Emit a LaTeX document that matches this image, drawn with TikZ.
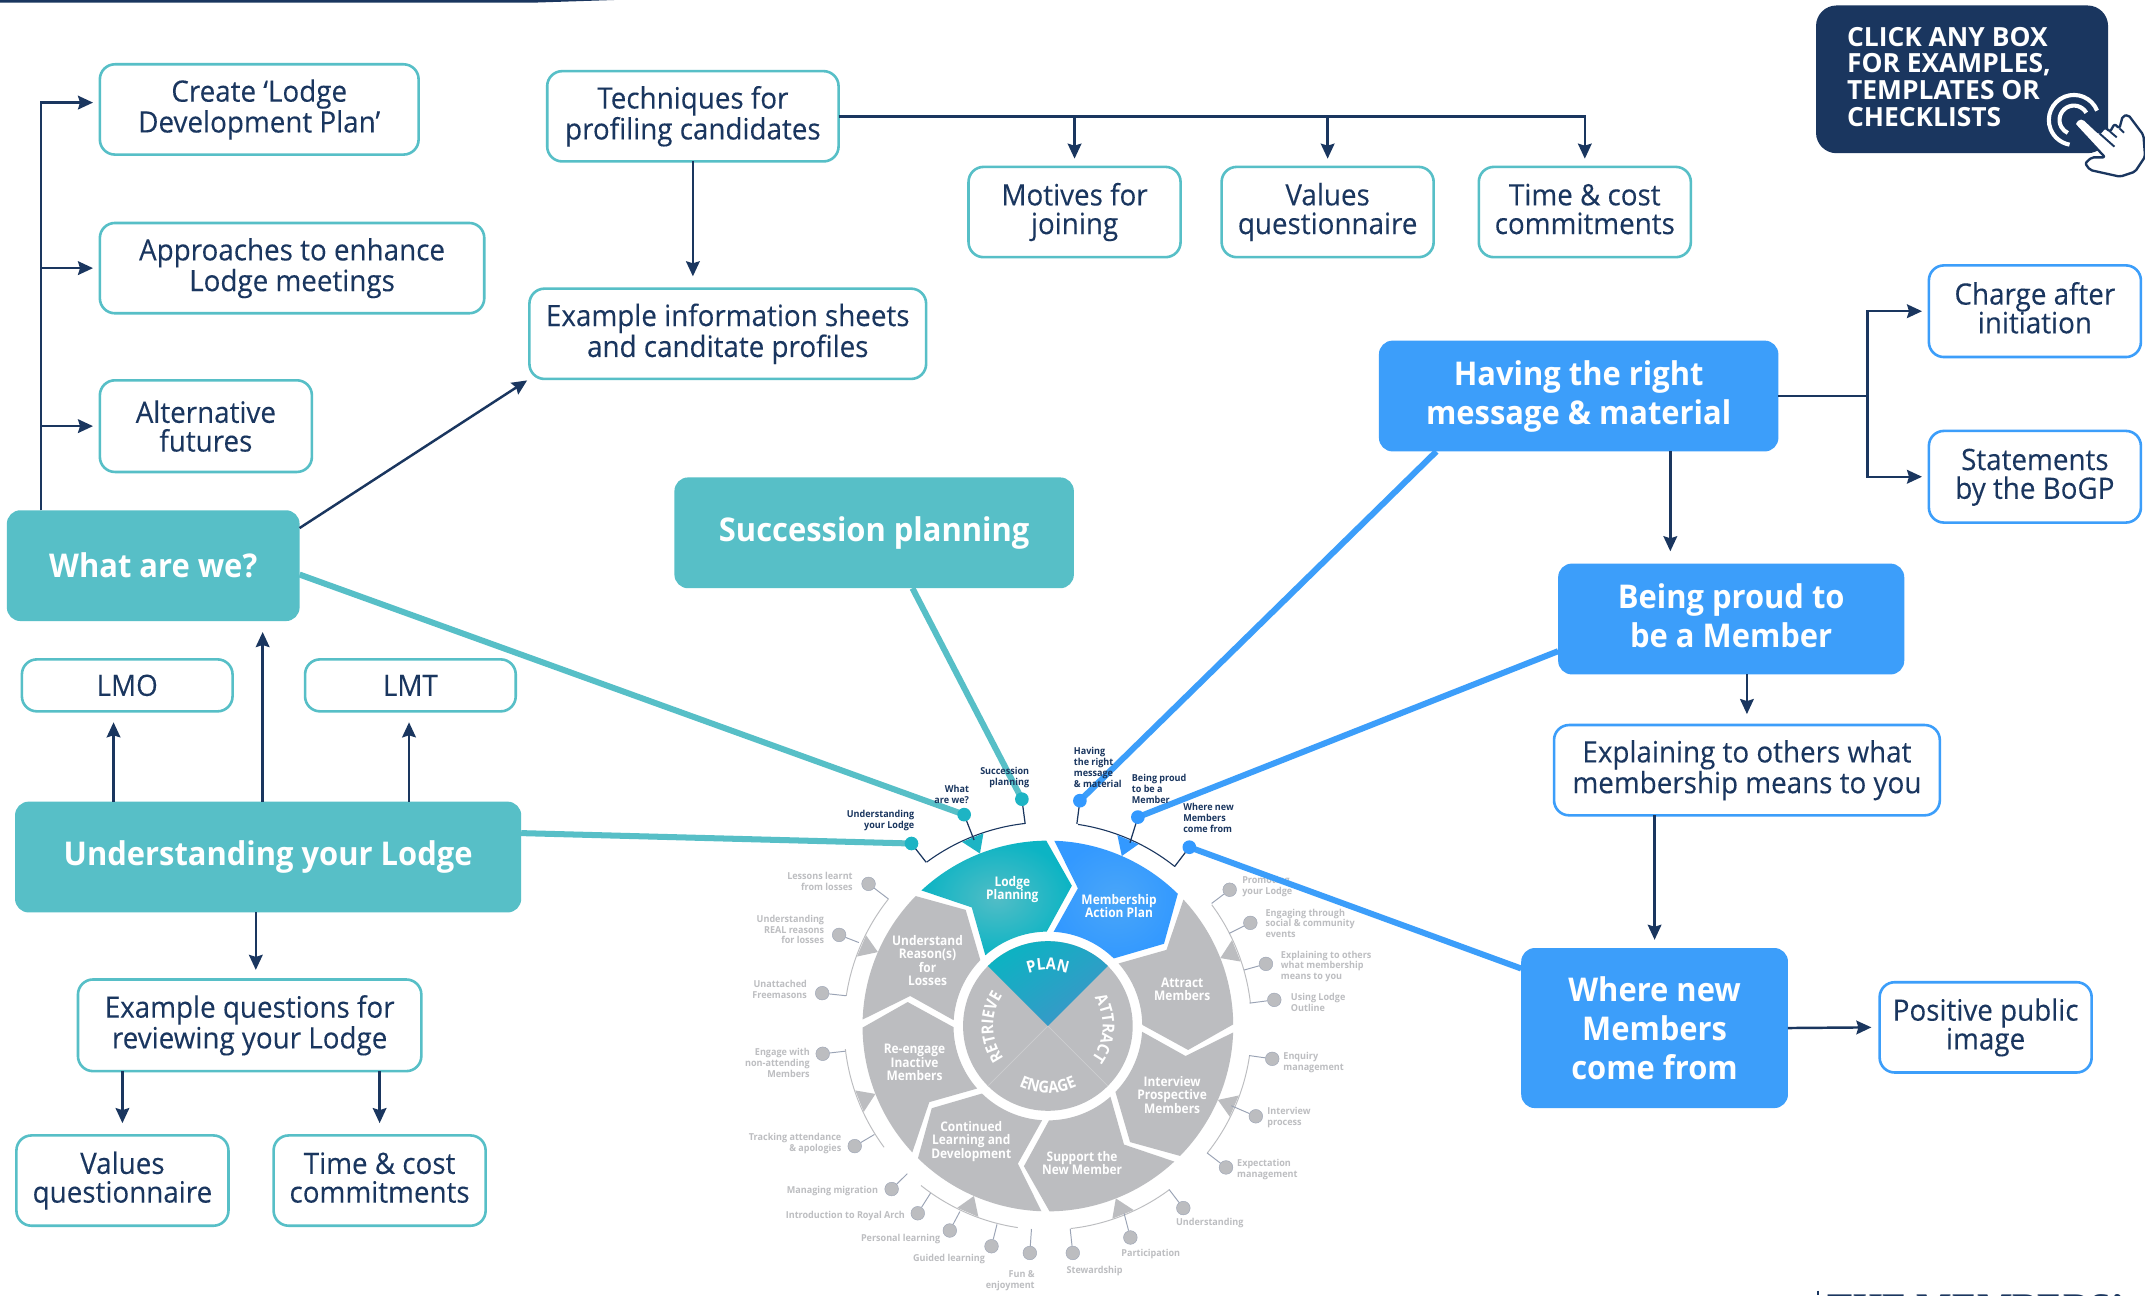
\documentclass[tikz,border=0pt]{standalone}
\usepackage{fontspec}
\setmainfont[FakeStretch=0.945,FakeBold=0.15,BoldFeatures={FakeBold=0}]{Open Sans}
\newfontfamily\narrowf[FakeStretch=0.9]{Open Sans}
\newfontfamily\ctaf{Open Sans}
\newfontfamily\cutserif{Liberation Serif}
\usetikzlibrary{arrows.meta,calc,decorations.text}
\definecolor{mynavy}{HTML}{1A365F}
\definecolor{myteal}{HTML}{57BFC7}
\definecolor{tealedge}{HTML}{0CB4C4}
\definecolor{tealmid}{HTML}{52BDC6}
\definecolor{tealdot}{HTML}{1DB4C4}
\definecolor{myblue}{HTML}{3C9EFA}
\definecolor{blueout}{HTML}{3399FF}
\definecolor{bluein}{HTML}{4AA6F8}
\definecolor{plana}{HTML}{0AB4C2}
\definecolor{planb}{HTML}{08AFD2}
\definecolor{planc}{HTML}{3C96C8}
\definecolor{mygray}{HTML}{BCBDC0}
\definecolor{glabel}{HTML}{BDBEC1}
\definecolor{gtick}{HTML}{9AA3B5}
\tikzset{
  outl/.style={rectangle,rounded corners=11pt,line width=1.9pt,fill=white,inner sep=0pt,outer sep=0pt,align=center,text=mynavy,font=\fontsize{21.5}{21}\selectfont},
  tbox/.style={outl,draw=myteal},
  bbox/.style={outl,draw=myblue},
  fbox/.style={rectangle,rounded corners=10pt,inner sep=0pt,outer sep=0pt,align=center,text=white,font=\fontsize{23.9}{28.5}\selectfont\bfseries},
  tfill/.style={fbox,fill=myteal},
  bfill/.style={fbox,fill=myblue},
  conn/.style={draw=mynavy,line width=1.8pt,-{Stealth[length=11pt,width=10pt,inset=1.5pt]}},
  plainconn/.style={draw=mynavy,line width=1.8pt},
  thickt/.style={draw=myteal,line width=4.4pt},
  thickb/.style={draw=myblue,line width=4.4pt},
  dotg/.style={circle,fill=mygray,draw=gtick,line width=.3pt,minimum size=10pt,inner sep=0pt},
  dott/.style={circle,fill=tealdot,minimum size=10pt,inner sep=0pt},
  dotb/.style={circle,fill=blueout,minimum size=10pt,inner sep=0pt},
  tickg/.style={draw=gtick,line width=.7pt},
  bracketg/.style={draw=mygray,line width=.7pt},
  bracketn/.style={draw=mynavy,line width=.8pt},
  gr/.style={inner sep=0pt,text=glabel,align=right,anchor=east,font=\fontsize{7}{8}\selectfont\bfseries},
  gl/.style={inner sep=0pt,text=glabel,align=left,anchor=west,font=\fontsize{7}{8}\selectfont\bfseries},
  nr/.style={inner sep=0pt,text=mynavy,align=right,anchor=east,font=\fontsize{7}{8}\selectfont\bfseries},
  nl/.style={inner sep=0pt,text=mynavy,align=left,anchor=west,font=\fontsize{7}{8}\selectfont\bfseries},
  seglab/.style={inner sep=0pt,text=white,align=center,font=\narrowf\fontsize{9.7}{9.8}\selectfont\bfseries},
}
\newcommand{\tstr}{\rule{0pt}{.76em}}
\newcommand{\bstr}{\rule[-.24em]{0pt}{.24em}}
\newcommand{\bx}[7]{\node[#1,minimum width={(#5-#3)*1pt},minimum height={(#6-#4)*1pt}] (#2) at ({(#3+#5)/2},{(#4+#6)/2}) {\tstr #7\bstr};}
\newcommand{\bxn}[7]{\node[#1,minimum width={(#5-#3)*1pt},minimum height={(#6-#4)*1pt}] (#2) at ({(#3+#5)/2},{(#4+#6)/2}) {#7};}
\newcommand{\callout}[6]{\node[dotg] (#1) at #2 {}; \coordinate (#1t) at #3; \draw[tickg] (#1) -- (#1t); \node[#5] (#1l) at #4 {#6};}
\newcommand{\wheelfont}{\narrowf\fontsize{12}{12}\selectfont\bfseries}
\begin{document}
\begin{tikzpicture}[x=1pt,y=-1pt]
\useasboundingbox (0,0) rectangle (1568,947);
\fill[white] (0,0) rectangle (1568,947);
% top bar
\fill[mynavy] (0,0) -- (449,0) -- (388,2) -- (0,2) -- cycle;
% wheel
\begin{scope}[shift={(766,750)}]
  \foreach \k in {2,...,7}{
    \begin{scope}[rotate=-45*\k]
      \fill[mygray] (133:135.5pt) arc[start angle=133,end angle=90.5,radius=135.5pt] -- (80.3:104pt) -- (90.7:69pt) arc[start angle=90.7,end angle=131.5,radius=69pt] -- (122.7:103pt) -- cycle;
    \end{scope}
  }
  \shade[inner color=tealmid,outer color=tealedge] (133:135.5pt) arc[start angle=133,end angle=90.5,radius=135.5pt] -- (80.3:104pt) -- (90.7:69pt) arc[start angle=90.7,end angle=131.5,radius=69pt] -- (122.7:103pt) -- cycle;
  \begin{scope}[rotate=-45]
    \shade[inner color=bluein,outer color=blueout] (133:135.5pt) arc[start angle=133,end angle=90.5,radius=135.5pt] -- (80.3:104pt) -- (90.7:69pt) arc[start angle=90.7,end angle=131.5,radius=69pt] -- (122.7:103pt) -- cycle;
  \end{scope}
  % centre disc
  \fill[mygray] (0,0) circle[radius=62pt];
  \draw[mygray!75!white,line width=.5pt] (0,0) -- (-45:62pt) (0,0) -- (-135:62pt);
  \shade[left color=plana,middle color=planb,right color=planc,shading angle=35] (0,0) -- (135:62pt) arc[start angle=135,end angle=45,radius=62pt] -- cycle;
  % ring words
  \path[decorate,decoration={text along path,text align=center,text color=white,text={|\wheelfont|PLAN}}] ([shift={(130:41pt)}]0,0) arc[start angle=130,end angle=50,radius=41pt];
  \path[decorate,decoration={text along path,text align=center,text color=white,text={|\wheelfont|ATTRACT}}] ([shift={(50:40pt)}]0,0) arc[start angle=50,end angle=-55,radius=40pt];
  \path[decorate,decoration={text along path,text align=center,text color=white,text={|\wheelfont|RETRIEVE}}] ([shift={(235:40pt)}]0,0) arc[start angle=235,end angle=127,radius=40pt];
  \path[decorate,decoration={text along path,text align=center,text color=white,text={|\wheelfont|ENGAGE}}] ([shift={(210:49pt)}]0,0) arc[start angle=210,end angle=330,radius=49pt];
  % brackets
  \foreach \a in {156.5,201.5,246.5,291.5,336.5,21.5}{
    \draw[bracketg] ([shift={({\a+15}:149pt)}]0,0) arc[start angle=\a+15,end angle=\a-15,radius=149pt];
    \fill[mygray] ({\a+3.5}:148.5pt) -- ({\a-3}:148.5pt) -- (\a:135.5pt) -- cycle;
  }
  \foreach \a/\c in {111.5/tealdot,66.5/blueout}{
    \draw[bracketn] ([shift={({\a+15}:149pt)}]0,0) arc[start angle=\a+15,end angle=\a-15,radius=149pt];
    \fill[\c] ({\a+3.5}:148.5pt) -- ({\a-3}:148.5pt) -- (\a:135.5pt) -- cycle;
  }
\end{scope}
% segment labels
\node[seglab] (sLodge) at (740,650.4) {Lodge\\Planning};
\node[seglab] (sMem) at (818,662.5) {Membership\\Action Plan};
\node[seglab] (sAtt) at (864.2,723) {Attract\\Members};
\node[seglab] (sInt) at (856.8,800.3) {Interview\\Prospective\\Members};
\node[seglab] (sSup) at (791,850) {Support the\\New Member};
\node[seglab] (sCon) at (710,834.3) {Continued\\Learning and\\Development};
\node[seglab] (sRe) at (668.5,776.7) {Re-engage\\Inactive\\Members};
\node[seglab] (sUnd) at (678,702) {Understand\\Reason(s)\\for\\Losses};
% gray callouts
\callout{c1}{(634.9,646.1)}{(649.4,657.1)}{(623.5,644)}{gr}{Lessons learnt\\from losses}
\callout{c2}{(613.4,683.4)}{(627.8,689)}{(602.6,679.4)}{gr}{Understanding\\REAL reasons\\for losses}
\callout{c3}{(601,726)}{(618.6,727.9)}{(590,723)}{gr}{Unattached\\Freemasons}
\callout{c4}{(601.4,770.3)}{(618,768.4)}{(592.1,777)}{gr}{Engage with\\non-attending\\Members}
\callout{c5}{(624.8,837.8)}{(639.2,829.3)}{(615.2,835.7)}{gr}{Tracking attendance\\\& apologies}
\callout{c6}{(651.8,869.2)}{(663.2,858)}{(642,870.8)}{gr}{Managing migration}
\callout{c7}{(670.9,886.9)}{(680.2,872.2)}{(661.7,889)}{gr}{Introduction to Royal Arch}
\callout{c8}{(694.3,899.5)}{(701.7,885.6)}{(687.5,906)}{gr}{Personal learning}
\callout{c9}{(724.8,911)}{(728.8,895)}{(720.2,920)}{gr}{Guided learning}
\callout{c10}{(752.8,915.9)}{(754,898.4)}{(756.5,936)}{gr}{Fun \&\\enjoyment}
\callout{c11}{(784.2,915.9)}{(782.3,898.2)}{(779.5,929)}{gl}{Stewardship}
\callout{c12}{(826.3,904.6)}{(821.7,887)}{(819.5,916.7)}{gl}{Participation}
\callout{c13}{(865,883.1)}{(854.6,869.5)}{(859.5,893.9)}{gl}{Understanding}
\callout{c14}{(930,774)}{(913.1,771.6)}{(938,776.4)}{gl}{Enquiry\\management}
\callout{c15}{(918,816)}{(900.1,808.3)}{(926.3,817.2)}{gl}{Interview\\process}
\callout{c16}{(896.2,853.4)}{(882.3,842.7)}{(904.2,855)}{gl}{Expectation\\management}
\callout{c17}{(898.9,650.4)}{(885.7,660.4)}{(907.9,648.3)}{gl}{Promoting\\your Lodge}
\callout{c18}{(914,674.6)}{(898.6,682.3)}{(925,675)}{gl}{Engaging through\\social \& community\\events}
\callout{c19}{(925.4,704.6)}{(909.4,709.1)}{(936.2,706.5)}{gl}{Explaining to others\\what membership\\means to you}
\callout{c20}{(931.5,730.9)}{(913.4,733.3)}{(943.5,732.7)}{gl}{Using Lodge\\Outline}
% outlined boxes
\bx{tbox}{create}{73}{47}{306}{113}{Create ‘Lodge\\Development Plan’}
\bx{tbox}{appr}{73}{163}{354}{229}{Approaches to enhance\\Lodge meetings}
\bxn{tbox}{alter}{73}{278}{228}{345}{Alternative\\futures}
\bx{tbox}{tech}{400}{52}{613}{118}{Techniques for\\profiling candidates}
\bx{tbox}{motives}{708}{122}{863}{188}{Motives for\\joining}
\bx{tbox}{valA}{893}{122}{1048}{188}{Values\\questionnaire}
\bx{tbox}{timeA}{1081}{122}{1236}{188}{Time \& cost\\commitments}
\bx{tbox}{info}{387}{211}{677}{277}{Example information sheets\\and canditate profiles}
\bxn{tbox}{lmo}{16}{482}{170}{520}{LMO}
\bxn{tbox}{lmt}{223}{482}{377}{520}{LMT}
\bx{tbox}{exq}{57}{716}{308}{783}{Example questions for\\reviewing your Lodge}
\bx{tbox}{valB}{12}{830}{167}{896}{Values\\questionnaire}
\bx{tbox}{timeB}{200}{830}{355}{896}{Time \& cost\\commitments}
\bx{bbox}{charge}{1410}{194}{1565}{261}{Charge after\\initiation}
\bx{bbox}{stat}{1410}{315}{1565}{382}{Statements\\by the BoGP}
\bx{bbox}{expl}{1136}{530}{1418}{596}{Explaining to others what\\membership means to you}
\bx{bbox}{posi}{1374}{718}{1529}{784}{Positive public\\image}
% filled boxes
\bxn{tfill}{what}{5}{373}{219}{454}{What are we?}
\bx{tfill}{und}{11}{586}{381}{667}{Understanding your Lodge}
\bx{tfill}{succ}{493}{349}{785}{430}{Succession planning}
\bx{bfill}{having}{1008}{249}{1300}{330}{Having the right\\message \& material}
\bx{bfill}{being}{1139}{412}{1392}{493}{Being proud to\\be a Member}
\bxn{bfill}{where}{1112}{693}{1307}{810}{Where new\\Members\\come from}
% connectors
\draw[conn] ([xshift=-82pt]what.north) |- ([xshift=-5pt,yshift=5pt]create.west);
\draw[conn] ([xshift=-82pt]what.north |- appr.west) -- ([xshift=-5pt]appr.west);
\draw[conn] ([xshift=-82pt]what.north |- alter.west) -- ([xshift=-5pt]alter.west);
\draw[conn,shorten >=2pt] ([yshift=27.5pt]what.east) -- (info.south west);
\draw[conn] (tech.south) -- ([yshift=9pt]tech.south |- info.north);
\draw[conn] (tech.east) -| ([yshift=6pt]timeA.north);
\draw[conn] (tech.east -| motives.north) -- ([yshift=6pt]motives.north);
\draw[conn] (tech.east -| valA.north) -- ([yshift=6pt]valA.north);
\draw[conn] ([xshift=-113pt]und.north) -- ([xshift=-113pt,yshift=-8pt]und.north |- lmo.south);
\draw[conn] ([xshift=-4pt]und.north) -- ([xshift=-4pt,yshift=-8pt]und.north |- what.south);
\draw[conn] ([xshift=103pt]und.north) -- ([xshift=103pt,yshift=-8pt]und.north |- lmt.south);
\draw[conn] ([xshift=-9pt]und.south) -- ([xshift=-9pt,yshift=7pt]und.south |- exq.north);
\draw[conn] (valB.north |- exq.south) -- ([yshift=9pt]valB.north);
\draw[conn] (timeB.north |- exq.south) -- ([yshift=9pt]timeB.north);
\coordinate (hj) at (1365,289.5);
\draw[plainconn] (having.east) -- (hj);
\draw[conn] (hj) |- ([xshift=-5pt]charge.west);
\draw[conn] (hj) |- ([xshift=-5pt]stat.west);
\draw[conn] ([xshift=67pt]having.south) -- ([xshift=67pt,yshift=9pt]having.south |- being.north);
\draw[conn] (expl.north |- being.south) -- ([yshift=8pt]expl.north);
\draw[conn] (where.north |- expl.south) -- ([yshift=6pt]where.north);
\draw[conn] (where.east) -- ([xshift=-6pt]posi.west);
% wheel dots and thick lines
\coordinate (p1) at (666.3,616.6);
\coordinate (p2) at (704.8,595.5);
\coordinate (p3) at (747,584.2);
\coordinate (p4) at (789.4,585.3);
\coordinate (p5) at (831.8,597.3);
\coordinate (p6) at (869.4,619.3);
\draw[thickt] ([yshift=17.5pt]und.east) -- (p1);
\draw[thickt] ([yshift=-6.5pt]what.east) -- (p2);
\draw[thickt] ([xshift=28pt]succ.south) -- (p3);
\draw[thickb] ([xshift=-104pt]having.south) -- (p4);
\draw[thickb] ([yshift=-23.5pt]being.west) -- (p5);
\draw[thickb] ([yshift=43.5pt]where.west) -- (p6);
\coordinate (b1) at (677,630.3);
\coordinate (b2) at (712,614);
\coordinate (b3) at (749.4,602.2);
\coordinate (b4) at (787.2,602.2);
\coordinate (b5) at (826,616);
\coordinate (b6) at (858.6,633.5);
\foreach \i/\s in {1/dott,2/dott,3/dott,4/dotb,5/dotb,6/dotb}{
  \draw[mynavy,line width=.9pt] (p\i) -- (b\i);
  \node[\s] (dd\i) at (p\i) {};
}
% navy wheel labels
\node[nr] (n1) at (668.5,600) {Understanding\\your Lodge};
\node[nr] (n2) at (708.5,580.5) {What\\are we?};
\node[nr] (n3) at (752.5,568.4) {Succession\\planning};
\node[nl] (n4) at (784.8,561) {Having\\the right\\message\\\& material};
\node[nl] (n5) at (827.2,576.4) {Being proud\\to be a\\Member};
\node[nl] (n6) at (864.8,598.2) {Where new\\Members\\come from};
% call to action
\fill[mynavy,rounded corners=15pt] (1327.5,4) rectangle (1541,112);
\node[inner sep=0pt,anchor=west,align=left,text=white,font=\ctaf\fontsize{19.3}{19.5}\selectfont\bfseries] (cta) at (1350,56) {CLICK ANY BOX\\FOR EXAMPLES,\\TEMPLATES OR\\CHECKLISTS};
\draw[white,line width=3pt] ([shift={(22:18.3pt)}]1516,87.7) arc[start angle=22,end angle=260,radius=18.3pt];
\draw[white,line width=3pt] ([shift={(30:10.5pt)}]1516,87.7) arc[start angle=30,end angle=245,radius=10.5pt];
\begin{scope}[shift={(1301.2,0)},x=0.2437pt,y=-0.2437pt]
  \filldraw[fill=white,draw=mynavy,line width=1.7pt,rounded corners=1.5pt,line join=round]
    (882,372) -- (895,355) -- (910,355) -- (958,400) -- (975,382) -- (990,395) -- (1003,372) -- (1018,385) -- (1028,348) -- (1045,345) -- (1090,405) -- (1095,470) -- (1065,515) -- (1020,530) -- (930,510) -- (915,490) -- (935,472) -- (975,472) -- cycle;
  \draw[mynavy,line width=1.4pt] (958,400) -- (1003,440) (990,395) -- (1010,412) (1018,385) -- (1032,398);
\end{scope}
% cut-off line at the foot of the page
\draw[mynavy,line width=1pt] (1329,943.5) -- (1329,947);
\node[inner sep=0pt,anchor=base west,text=mynavy,font=\cutserif\fontsize{27.5}{27.5}\selectfont\bfseries] (foot) at (1336,964.5) {THE MEMBERS’};
\end{tikzpicture}
\end{document}
